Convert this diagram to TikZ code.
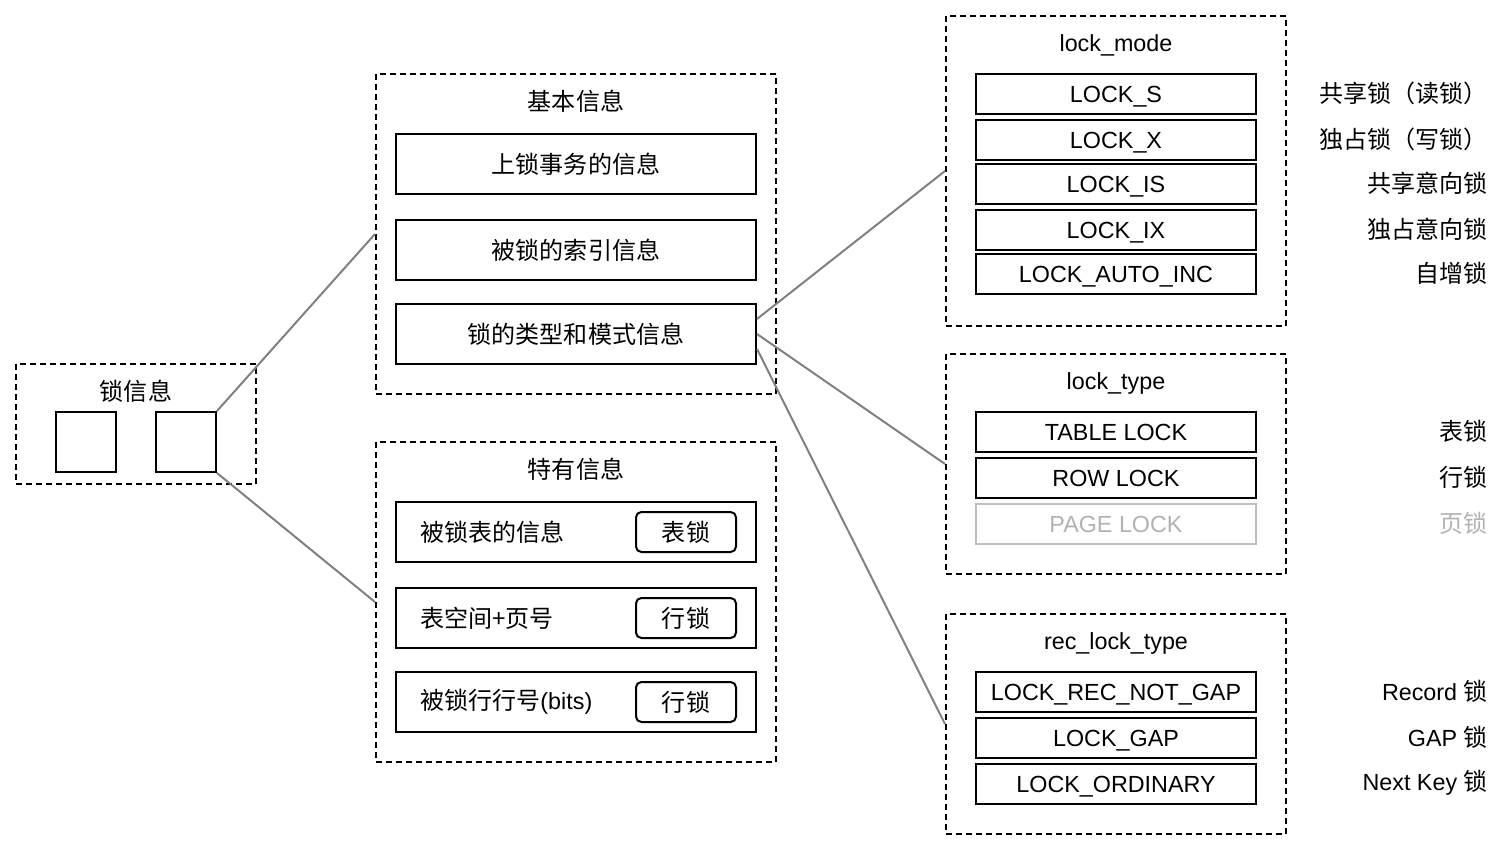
\documentclass[tikz,border=0pt]{standalone}
\usepackage{fontspec}
\setmainfont{Liberation Sans}
\newfontfamily\cjk[Scale=1.03]{Noto Sans CJK SC}
\usetikzlibrary{calc}

\tikzset{
  grp/.style={draw, line width=1.5pt, dash pattern=on 4.5pt off 3pt, inner sep=0},
  item/.style={draw, line width=1.5pt, minimum width=#1, minimum height=45pt, inner sep=0},
  entry/.style={draw, line width=1.5pt, minimum width=210pt, minimum height=30pt, inner sep=0, text height=12.5pt, text depth=0pt},
  tag/.style={draw, line width=1.5pt, rounded corners=4pt, minimum width=75pt, minimum height=30pt, inner sep=0},
  title/.style={inner sep=0, text height=12.5pt, text depth=0pt},
  note/.style={anchor=east, inner sep=0},
  link/.style={draw=gray, line width=1.5pt},
  faded/.style={draw=black!25, text=black!30},
}

\begin{document}
\begin{tikzpicture}[x=0.75pt, y=-0.75pt, font=\fontsize{17.5}{20}\selectfont]%
        \useasboundingbox (0,0) rectangle (1511,852);
        % lock info
        \node [grp, minimum width=180pt, minimum height=90pt] (lockinfo) at (136,424) {};
        \node (lockinfotitle) at (136,391) {\cjk 锁信息};
        \node [draw, line width=1.5pt, minimum size=45pt] (sqa) at (86,442) {};
        \node [draw, line width=1.5pt, minimum size=45pt] (sqb) at (186,442) {};
        % basic info
        \node [grp, minimum width=300pt, minimum height=240pt] (basic) at (576,234) {};
        \node (basictitle) at (576,101) {\cjk 基本信息};
        \node [item=270pt] (trx) at (576,164) {\cjk 上锁事务的信息};
        \node [item=270pt] (idx) at (576,250) {\cjk 被锁的索引信息};
        \node [item=270pt] (typ) at (576,334) {\cjk 锁的类型和模式信息};
        % special info
        \node [grp, minimum width=300pt, minimum height=240pt] (special) at (576,602) {};
        \node (specialtitle) at (576,469) {\cjk 特有信息};
        \foreach \y/\t/\g [count=\i] in {532/{\cjk 被锁表的信息}/表锁, 618/{\cjk 表空间+页号}/行锁, 702/{{\cjk 被锁行行号}(bits)}/行锁} {
            \node [item=270pt] (sp\i) at (576,\y) {};
            \node [anchor=west, inner sep=0] (sptext\i) at (420,\y) {\t};
            \node [tag] (sptag\i) at (686,\y) {\cjk \g};
        }
        % lock_mode
        \node [grp, minimum width=255pt, minimum height=232.5pt] (mode) at (1116,171) {};
        \node [title] (modetitle) at (1116,43) {lock\_mode};
        \foreach \y/\t/\n [count=\i] in {94/LOCK\_S/共享锁（读锁）, 140/LOCK\_X/独占锁（写锁）, 184/LOCK\_IS/共享意向锁, 230/LOCK\_IX/独占意向锁, 274/LOCK\_AUTO\_INC/自增锁} {
            \node [entry] (mode\i) at (1116,\y) {\t};
            \node [note] (modenote\i) at (1488,\y-1) {\cjk \n};
        }
        % lock_type
        \node [grp, minimum width=255pt, minimum height=165pt] (ltype) at (1116,464) {};
        \node [title] (ltypetitle) at (1116,381) {lock\_type};
        \node [entry] (ltype1) at (1116,432) {TABLE LOCK};
        \node [note] (ltypenote1) at (1488,431) {\cjk 表锁};
        \node [entry] (ltype2) at (1116,478) {ROW LOCK};
        \node [note] (ltypenote2) at (1488,477) {\cjk 行锁};
        \node [entry, faded] (ltype3) at (1116,524) {PAGE LOCK};
        \node [note, text=black!30] (ltypenote3) at (1488,523) {\cjk 页锁};
        % rec_lock_type
        \node [grp, minimum width=255pt, minimum height=165pt] (rec) at (1116,724) {};
        \node [title] (rectitle) at (1116,641) {rec\_lock\_type};
        \foreach \y/\t/\n [count=\i] in {692/LOCK\_REC\_NOT\_GAP/Record, 738/LOCK\_GAP/GAP, 784/LOCK\_ORDINARY/Next Key} {
            \node [entry] (rec\i) at (1116,\y) {\t};
            \node [note] (recnote\i) at (1488,\y-1) {\n\ {\cjk 锁}};
        }
        % links
        \draw [link] (sqb.north east) -- (basic.west);
        \draw [link] (sqb.south east) -- (special.west);
        \draw [link] ([yshift=11.25pt]typ.east) -- (mode.west);
        \draw [link] (typ.east) -- (ltype.west);
        \draw [link] ([yshift=-11.25pt]typ.east) -- (rec.west);
    \end{tikzpicture}
\end{document}
